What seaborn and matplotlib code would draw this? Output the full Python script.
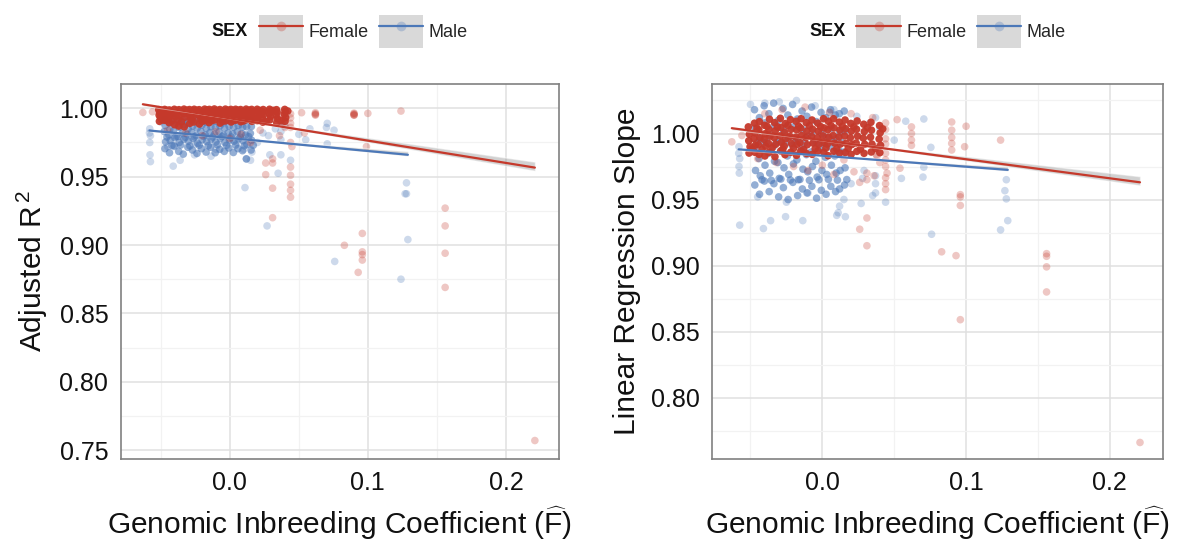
import numpy as np
import pandas as pd
import matplotlib
matplotlib.use("Agg")
import matplotlib.pyplot as plt
import seaborn as sns
from matplotlib.patches import Rectangle
from matplotlib.lines import Line2D
from matplotlib.legend_handler import HandlerTuple
from matplotlib.colors import to_rgba
from matplotlib.ticker import MultipleLocator, FormatStrFormatter

# ---- data ----
# dense cloud: each listed point stands for several samples
FEMALE_CORE_N = 8
MALE_CORE_N = 10

female_core_f = [
    -0.0515, -0.0508, -0.0512, -0.0503, -0.0510, -0.0490,
    -0.0472, -0.0468, -0.0476, -0.0465, -0.0470, -0.0455,
    -0.0438, -0.0442, -0.0435, -0.0445, -0.0440, -0.0420,
    -0.0402, -0.0398, -0.0405, -0.0395, -0.0400, -0.0385,
    -0.0368, -0.0372, -0.0365, -0.0375, -0.0370, -0.0350,
    -0.0332, -0.0328, -0.0335, -0.0325, -0.0330, -0.0312,
    -0.0292, -0.0288, -0.0295, -0.0285, -0.0290, -0.0275,
    -0.0258, -0.0262, -0.0255, -0.0265, -0.0260, -0.0240,
    -0.0222, -0.0218, -0.0225, -0.0215, -0.0220, -0.0200,
    -0.0182, -0.0178, -0.0185, -0.0175, -0.0180, -0.0165,
    -0.0148, -0.0152, -0.0145, -0.0155, -0.0150, -0.0130,
    -0.0112, -0.0108, -0.0115, -0.0105, -0.0110, -0.0090,
    -0.0072, -0.0068, -0.0075, -0.0065, -0.0070, -0.0050,
    -0.0032, -0.0028, -0.0035, -0.0025, -0.0030, -0.0012,
    0.0008, 0.0012, 0.0005, 0.0015, 0.0010, 0.0025,
    0.0042, 0.0038, 0.0045, 0.0035, 0.0040, 0.0060,
    0.0078, 0.0082, 0.0075, 0.0085, 0.0080, 0.0100,
    0.0118, 0.0122, 0.0115, 0.0125, 0.0120, 0.0140,
    0.0158, 0.0162, 0.0155, 0.0165, 0.0160, 0.0180,
    0.0198, 0.0202, 0.0195, 0.0205, 0.0200, 0.0220,
    0.0242, 0.0238, 0.0245, 0.0235, 0.0240, 0.0265,
    0.0288, 0.0292, 0.0285, 0.0295, 0.0290, 0.0315,
    0.0338, 0.0342, 0.0335, 0.0345, 0.0340, 0.0370,
    0.0398, 0.0402, 0.0395, 0.0405, 0.0400, 0.0420,
]
female_core_r2 = [
    0.9990, 0.9968, 0.9950, 0.9932, 0.9905, 0.9915,
    0.9992, 0.9975, 0.9958, 0.9938, 0.9912, 0.9985,
    0.9988, 0.9970, 0.9952, 0.9925, 0.9895, 0.9908,
    0.9993, 0.9978, 0.9960, 0.9940, 0.9880, 0.9984,
    0.9990, 0.9972, 0.9948, 0.9920, 0.9870, 0.9902,
    0.9994, 0.9980, 0.9962, 0.9935, 0.9865, 0.9986,
    0.9991, 0.9975, 0.9955, 0.9928, 0.9890, 0.9912,
    0.9993, 0.9982, 0.9965, 0.9942, 0.9900, 0.9985,
    0.9990, 0.9970, 0.9950, 0.9925, 0.9885, 0.9905,
    0.9994, 0.9978, 0.9960, 0.9938, 0.9910, 0.9987,
    0.9992, 0.9976, 0.9955, 0.9930, 0.9895, 0.9910,
    0.9995, 0.9982, 0.9966, 0.9945, 0.9915, 0.9984,
    0.9991, 0.9974, 0.9952, 0.9926, 0.9892, 0.9906,
    0.9994, 0.9980, 0.9962, 0.9940, 0.9908, 0.9986,
    0.9992, 0.9977, 0.9958, 0.9935, 0.9900, 0.9914,
    0.9993, 0.9979, 0.9960, 0.9937, 0.9912, 0.9985,
    0.9991, 0.9975, 0.9955, 0.9930, 0.9902, 0.9908,
    0.9994, 0.9981, 0.9964, 0.9942, 0.9918, 0.9986,
    0.9992, 0.9976, 0.9957, 0.9933, 0.9905, 0.9912,
    0.9993, 0.9978, 0.9960, 0.9936, 0.9910, 0.9984,
    0.9991, 0.9974, 0.9954, 0.9928, 0.9898, 0.9905,
    0.9993, 0.9980, 0.9962, 0.9940, 0.9915, 0.9985,
    0.9990, 0.9972, 0.9950, 0.9925, 0.9895, 0.9910,
    0.9992, 0.9976, 0.9956, 0.9932, 0.9905, 0.9980,
]
female_core_slope = [
    1.0050, 0.9995, 0.9945, 0.9900, 0.9852, 0.9885,
    1.0078, 1.0005, 0.9962, 0.9912, 0.9858, 1.0040,
    1.0090, 1.0028, 0.9968, 0.9915, 0.9842, 0.9880,
    1.0062, 0.9998, 0.9955, 0.9905, 0.9830, 1.0055,
    1.0108, 1.0032, 0.9980, 0.9925, 0.9858, 0.9890,
    1.0082, 1.0020, 0.9968, 0.9918, 0.9825, 1.0050,
    1.0115, 1.0045, 0.9982, 0.9932, 0.9868, 0.9882,
    1.0075, 1.0008, 0.9960, 0.9905, 0.9840, 1.0060,
    1.0105, 1.0032, 0.9978, 0.9925, 0.9858, 0.9888,
    1.0092, 1.0028, 0.9972, 0.9918, 0.9835, 1.0055,
    1.0112, 1.0042, 0.9985, 0.9930, 0.9868, 0.9880,
    1.0082, 1.0018, 0.9968, 0.9915, 0.9848, 1.0058,
    1.0102, 1.0032, 0.9978, 0.9928, 0.9842, 0.9885,
    1.0078, 1.0018, 0.9968, 0.9918, 0.9868, 1.0052,
    1.0112, 1.0042, 0.9982, 0.9930, 0.9858, 0.9890,
    1.0092, 1.0028, 0.9972, 0.9920, 0.9832, 1.0060,
    1.0112, 1.0042, 0.9985, 0.9928, 0.9866, 0.9884,
    1.0086, 1.0026, 0.9974, 0.9920, 0.9852, 1.0055,
    1.0102, 1.0036, 0.9982, 0.9926, 0.9856, 0.9888,
    1.0076, 1.0018, 0.9968, 0.9916, 0.9842, 1.0050,
    1.0095, 1.0032, 0.9980, 0.9928, 0.9865, 0.9882,
    1.0070, 1.0015, 0.9965, 0.9918, 0.9850, 1.0045,
    1.0085, 1.0025, 0.9972, 0.9920, 0.9860, 0.9886,
    1.0060, 1.0005, 0.9958, 0.9910, 0.9855, 1.0035,
]

# sparse female points (one sample each)
female_sparse_f = [
    -0.0630, -0.0560, -0.0450, -0.0320, -0.0200, -0.0100, 0.0000, 0.0080,
    0.0150, 0.0220, 0.0360, 0.0380, 0.0400, -0.0280, -0.0120, 0.0050,
    0.0200, 0.0350, -0.0400, 0.0440, 0.0440, 0.0440, 0.0440, 0.0375,
    0.0375, 0.0440, 0.0450, 0.0440, 0.0440, 0.0440, 0.0440, 0.0440,
    0.0310, 0.0310, 0.0310, 0.0310, 0.0260, 0.0260, 0.0520, 0.0540,
    0.0620, 0.0620, 0.0620, 0.0620, 0.0900, 0.0900, 0.0900, 0.0900,
    0.0900, 0.0830, 0.0930, 0.0960, 0.0960, 0.0960, 0.0960, 0.0990,
    0.1000, 0.1240, 0.1560, 0.1560, 0.1560, 0.1560, 0.2210,
]
female_sparse_r2 = [
    0.9970, 0.9975, 0.9840, 0.9820, 0.9800, 0.9830, 0.9780, 0.9810,
    0.9750, 0.9840, 0.9800, 0.9900, 0.9860, 0.9965, 0.9980, 0.9970,
    0.9985, 0.9975, 0.9985, 0.9960, 0.9930, 0.9890, 0.9860, 0.9950,
    0.9890, 0.9750, 0.9720, 0.9570, 0.9510, 0.9445, 0.9400, 0.9350,
    0.9630, 0.9600, 0.9416, 0.9200, 0.9600, 0.9515, 0.9968, 0.9820,
    0.9968, 0.9960, 0.9950, 0.9955, 0.9965, 0.9960, 0.9950, 0.9955,
    0.9950, 0.8998, 0.8800, 0.9085, 0.8950, 0.8890, 0.8930, 0.9720,
    0.9963, 0.9980, 0.9270, 0.9140, 0.8940, 0.8690, 0.7570,
]
female_sparse_slope = [
    0.9937, 0.9985, 0.9810, 0.9780, 0.9750, 0.9720, 0.9760, 0.9690,
    0.9800, 0.9710, 0.9680, 0.9830, 0.9780, 1.0180, 1.0200, 1.0160,
    1.0150, 1.0120, 1.0150, 1.0080, 1.0030, 0.9960, 0.9920, 0.9900,
    0.9840, 0.9620, 0.9700, 0.9665, 0.9575, 0.9750, 0.9800, 0.9850,
    0.9360, 0.9150, 0.9650, 0.9700, 0.9275, 0.9630, 1.0105, 0.9737,
    1.0050, 1.0000, 0.9950, 0.9910, 1.0087, 1.0025, 0.9970, 0.9925,
    0.9875, 0.9104, 0.9075, 0.8590, 0.9537, 0.9520, 0.9455, 0.9900,
    1.0055, 0.9950, 0.9090, 0.9070, 0.8990, 0.8800, 0.7660,
]

male_core_f = [
    -0.0472, -0.0468, -0.0475, -0.0465, -0.0470, -0.0455,
    -0.0438, -0.0435, -0.0441, -0.0432, -0.0437, -0.0420,
    -0.0405, -0.0401, -0.0408, -0.0399, -0.0403, -0.0388,
    -0.0372, -0.0368, -0.0375, -0.0366, -0.0370, -0.0355,
    -0.0339, -0.0335, -0.0342, -0.0333, -0.0337, -0.0322,
    -0.0306, -0.0302, -0.0309, -0.0300, -0.0304, -0.0289,
    -0.0273, -0.0269, -0.0276, -0.0267, -0.0271, -0.0256,
    -0.0240, -0.0236, -0.0243, -0.0234, -0.0238, -0.0222,
    -0.0207, -0.0203, -0.0210, -0.0201, -0.0205, -0.0190,
    -0.0174, -0.0170, -0.0177, -0.0168, -0.0172, -0.0156,
    -0.0141, -0.0137, -0.0144, -0.0135, -0.0139, -0.0124,
    -0.0108, -0.0104, -0.0111, -0.0102, -0.0106, -0.0090,
    -0.0075, -0.0071, -0.0078, -0.0069, -0.0073, -0.0057,
    -0.0042, -0.0038, -0.0045, -0.0036, -0.0040, -0.0024,
    -0.0009, -0.0005, -0.0012, -0.0003, -0.0007, 0.0009,
    0.0024, 0.0028, 0.0021, 0.0030, 0.0026, 0.0042,
    0.0057, 0.0061, 0.0054, 0.0063, 0.0059, 0.0075,
    0.0090, 0.0094, 0.0087, 0.0096, 0.0092, 0.0105,
    0.0118, 0.0122, 0.0115, 0.0124, 0.0120, 0.0137,
    0.0152, 0.0156, 0.0149, 0.0158, 0.0154, 0.0170,
]
male_core_r2 = [
    0.9920, 0.9875, 0.9830, 0.9755, 0.9705, 0.9790,
    0.9895, 0.9845, 0.9805, 0.9765, 0.9675, 0.9728,
    0.9925, 0.9885, 0.9835, 0.9785, 0.9725, 0.9795,
    0.9905, 0.9860, 0.9795, 0.9750, 0.9685, 0.9732,
    0.9915, 0.9880, 0.9820, 0.9775, 0.9665, 0.9788,
    0.9900, 0.9850, 0.9810, 0.9760, 0.9715, 0.9725,
    0.9925, 0.9870, 0.9825, 0.9780, 0.9695, 0.9792,
    0.9910, 0.9855, 0.9800, 0.9745, 0.9670, 0.9730,
    0.9920, 0.9877, 0.9833, 0.9770, 0.9705, 0.9796,
    0.9900, 0.9853, 0.9805, 0.9757, 0.9680, 0.9727,
    0.9915, 0.9865, 0.9823, 0.9775, 0.9715, 0.9790,
    0.9905, 0.9860, 0.9810, 0.9753, 0.9675, 0.9733,
    0.9923, 0.9873, 0.9827, 0.9780, 0.9700, 0.9794,
    0.9903, 0.9855, 0.9803, 0.9750, 0.9685, 0.9729,
    0.9917, 0.9870, 0.9820, 0.9767, 0.9710, 0.9791,
    0.9907, 0.9861, 0.9813, 0.9760, 0.9677, 0.9731,
    0.9920, 0.9875, 0.9830, 0.9777, 0.9705, 0.9789,
    0.9910, 0.9863, 0.9815, 0.9763, 0.9690, 0.9726,
    0.9915, 0.9865, 0.9805, 0.9735, 0.9630, 0.9793,
    0.9913, 0.9867, 0.9817, 0.9767, 0.9695, 0.9730,
]
male_core_slope = [
    1.0180, 1.0040, 0.9890, 0.9720, 0.9610, 0.9930,
    1.0120, 0.9960, 0.9810, 0.9680, 0.9540, 0.9650,
    1.0210, 1.0080, 0.9930, 0.9760, 0.9640, 0.9935,
    1.0150, 0.9990, 0.9850, 0.9700, 0.9560, 0.9645,
    1.0230, 1.0060, 0.9900, 0.9790, 0.9620, 0.9928,
    1.0100, 0.9940, 0.9780, 0.9660, 0.9520, 0.9655,
    1.0190, 1.0020, 0.9870, 0.9740, 0.9590, 0.9932,
    1.0140, 0.9970, 0.9830, 0.9690, 0.9500, 0.9648,
    1.0220, 1.0050, 0.9910, 0.9770, 0.9630, 0.9936,
    1.0110, 0.9950, 0.9800, 0.9650, 0.9530, 0.9652,
    1.0170, 1.0030, 0.9880, 0.9730, 0.9580, 0.9930,
    1.0130, 0.9980, 0.9840, 0.9710, 0.9550, 0.9646,
    1.0200, 1.0010, 0.9860, 0.9750, 0.9600, 0.9934,
    1.0090, 0.9930, 0.9790, 0.9670, 0.9510, 0.9650,
    1.0160, 1.0000, 0.9890, 0.9720, 0.9570, 0.9929,
    1.0120, 0.9970, 0.9820, 0.9690, 0.9540, 0.9653,
    1.0180, 1.0040, 0.9900, 0.9760, 0.9600, 0.9933,
    1.0140, 0.9960, 0.9830, 0.9700, 0.9560, 0.9647,
    1.0150, 1.0010, 0.9870, 0.9720, 0.9580, 0.9931,
    1.0170, 1.0020, 0.9860, 0.9740, 0.9610, 0.9651,
]

male_sparse_f = [
    -0.0580, -0.0582, -0.0575, -0.0580, -0.0578, -0.0575, -0.0410, -0.0360,
    -0.0256, -0.0136, -0.0500, -0.0300, -0.0180, -0.0050, 0.0080, -0.0400,
    0.0150, 0.0120, 0.0200, 0.0240, 0.0280, 0.0290, 0.0330, 0.0370,
    0.0370, 0.0370, 0.0370, 0.0400, 0.0440, 0.0350, 0.0270, 0.0110,
    0.0100, 0.0160, 0.0050, -0.0100, -0.0250, -0.0450, 0.0500, 0.0550,
    0.0580, 0.0700, 0.0706, 0.0706, 0.0755, 0.0760, 0.1240, 0.1270,
    0.1280, 0.1280, 0.1290,
]
male_sparse_r2 = [
    0.9850, 0.9820, 0.9800, 0.9750, 0.9660, 0.9610, 0.9577, 0.9620,
    0.9660, 0.9650, 0.9900, 0.9910, 0.9900, 0.9890, 0.9880, 0.9720,
    0.9620, 0.9630, 0.9750, 0.9820, 0.9800, 0.9660, 0.9850, 0.9900,
    0.9830, 0.9770, 0.9660, 0.9870, 0.9620, 0.9525, 0.9140, 0.9420,
    0.9700, 0.9680, 0.9750, 0.9700, 0.9740, 0.9720, 0.9810, 0.9770,
    0.9850, 0.9860, 0.9890, 0.9740, 0.9840, 0.8880, 0.8750, 0.9375,
    0.9455, 0.9375, 0.9040,
]
male_sparse_slope = [
    0.9900, 0.9850, 0.9810, 0.9750, 0.9700, 0.9306, 0.9280, 0.9340,
    0.9370, 0.9340, 1.0220, 1.0240, 1.0250, 1.0210, 1.0180, 1.0230,
    0.9500, 0.9450, 0.9620, 1.0130, 0.9660, 0.9720, 1.0080, 1.0120,
    0.9680, 0.9620, 0.9550, 1.0040, 0.9480, 0.9530, 0.9470, 0.9400,
    0.9380, 0.9370, 1.0160, 0.9550, 0.9480, 0.9520, 0.9950, 0.9660,
    1.0093, 0.9670, 1.0110, 0.9745, 0.9895, 0.9237, 0.9270, 0.9567,
    0.9650, 0.9505, 0.9340,
]

sexes = ["Female", "Male"]
palette = {"Female": "#C5392B", "Male": "#4C78B8"}
# the listed core points stand for many overlapping samples
core_alpha = {"Female": 0.95, "Male": 0.6}


def make_frame(sex, core_f, core_r2, core_slope, core_n, sp_f, sp_r2, sp_slope):
    df = pd.DataFrame({
        "F": core_f + sp_f,
        "r2": core_r2 + sp_r2,
        "slope": core_slope + sp_slope,
        "n": [core_n] * len(core_f) + [1] * len(sp_f),
    })
    df["SEX"] = sex
    return df


female = make_frame("Female", female_core_f, female_core_r2, female_core_slope,
                    FEMALE_CORE_N, female_sparse_f, female_sparse_r2, female_sparse_slope)
male = make_frame("Male", male_core_f, male_core_r2, male_core_slope,
                  MALE_CORE_N, male_sparse_f, male_sparse_r2, male_sparse_slope)
frames = {"Female": female, "Male": male}
# one row per sample for the linear fits
fit_frames = {s: d.loc[d.index.repeat(d["n"])].reset_index(drop=True) for s, d in frames.items()}

# ---- style ----
sns.set_theme(style="white")
plt.rcParams["font.family"] = ["Liberation Sans", "DejaVu Sans"]
plt.rcParams["mathtext.fontset"] = "custom"
plt.rcParams["mathtext.rm"] = "Liberation Sans"
plt.rcParams["mathtext.it"] = "Liberation Sans:italic"
plt.rcParams["mathtext.bf"] = "Liberation Sans:bold"

fig = plt.figure(figsize=(11.77, 5.54), dpi=100)
ax1 = fig.add_axes([0.1026, 0.1720, 0.3720, 0.6764])
ax2 = fig.add_axes([0.6049, 0.1720, 0.3832, 0.6764])

panels = [
    (ax1, "r2", "Adjusted R$^{\\,2}$", (-0.079, 0.2382), (0.7437, 1.0178), [0.75, 0.80, 0.85, 0.90, 0.95, 1.00]),
    (ax2, "slope", "Linear Regression Slope", (-0.0768, 0.237), (0.7537, 1.0375), [0.80, 0.85, 0.90, 0.95, 1.00]),
]

for ax, col, ylab, xlim, ylim, yticks in panels:
    for sex in ["Male", "Female"]:
        d = frames[sex]
        sns.scatterplot(data=d[d["n"] == 1], x="F", y=col, color=palette[sex],
                        s=30, alpha=0.28, edgecolor="none", ax=ax)
        sns.scatterplot(data=d[d["n"] > 1], x="F", y=col, color=palette[sex],
                        s=30, alpha=core_alpha[sex], edgecolor="none", ax=ax)

    # grey confidence ribbons, then the fitted lines
    for sex in sexes:
        sns.regplot(data=fit_frames[sex], x="F", y=col, scatter=False, ci=30,
                    n_boot=300, seed=3, color="#999999", line_kws={"alpha": 0}, ax=ax)
        ax.collections[-1].set_alpha(0.45)
    for sex in sexes:
        sns.regplot(data=fit_frames[sex], x="F", y=col, scatter=False, ci=None,
                    color=palette[sex], line_kws={"lw": 1.6}, ax=ax)

    ax.set_xlim(*xlim)
    ax.set_ylim(*ylim)
    ax.set_xticks([0.0, 0.1, 0.2])
    ax.set_yticks(yticks)
    ax.xaxis.set_minor_locator(MultipleLocator(0.05))
    ax.yaxis.set_minor_locator(MultipleLocator(0.025))
    ax.xaxis.set_major_formatter(FormatStrFormatter("%.1f"))
    ax.yaxis.set_major_formatter(FormatStrFormatter("%.2f"))
    ax.grid(which="major", color="#E0E0E0", lw=1.1)
    ax.grid(which="minor", color="#F2F2F2", lw=0.9)
    ax.set_axisbelow(True)
    ax.tick_params(which="major", direction="out", length=6, width=1.1,
                   color="#333333", labelsize=18, labelcolor="#111111", pad=3)
    ax.tick_params(which="minor", length=0)
    for sp in ax.spines.values():
        sp.set_color("#808080")
        sp.set_linewidth(1.2)
    ax.set_xlabel("Genomic Inbreeding Coefficient ($\\widehat{\\mathrm{F}}$)",
                  fontsize=21.5, labelpad=7, color="#111111")
    ax.set_ylabel(ylab, fontsize=21.5, labelpad=7, color="#111111")

# ---- legends above each panel ----
handles = []
for sex in sexes:
    box = Rectangle((0, 0), 1, 1, facecolor="#D9D9D9", edgecolor="none")
    line = Line2D([], [], color=palette[sex], lw=1.6, marker="o", markersize=7,
                  markerfacecolor=to_rgba(palette[sex], 0.3), markeredgecolor="none")
    handles.append((box, line))

fig.canvas.draw()
renderer = fig.canvas.get_renderer()
figw = fig.bbox.width
leg_y = 1 - 31.5 / 554
for ax in (ax1, ax2):
    leg = ax.legend(handles, sexes, handler_map={tuple: HandlerTuple()},
                    loc="center left", bbox_to_anchor=(0.0, leg_y),
                    bbox_transform=fig.transFigure, ncol=2, frameon=False,
                    fontsize=13, handlelength=2.45, handleheight=2.35,
                    handletextpad=0.3, columnspacing=0.6, borderpad=0,
                    borderaxespad=0)
    title = fig.text(0, leg_y, "SEX", fontsize=13, fontweight="bold",
                     ha="left", va="center", color="#111111")
    fig.canvas.draw()
    lw = leg.get_window_extent(renderer).width
    tw = title.get_window_extent(renderer).width
    gap = 11
    axbox = ax.get_window_extent(renderer)
    start = (axbox.x0 + axbox.x1) / 2 - (tw + gap + lw) / 2
    title.set_x(start / figw)
    leg.set_bbox_to_anchor(((start + tw + gap) / figw, leg_y), transform=fig.transFigure)

fig.savefig("out.png", dpi=100)
